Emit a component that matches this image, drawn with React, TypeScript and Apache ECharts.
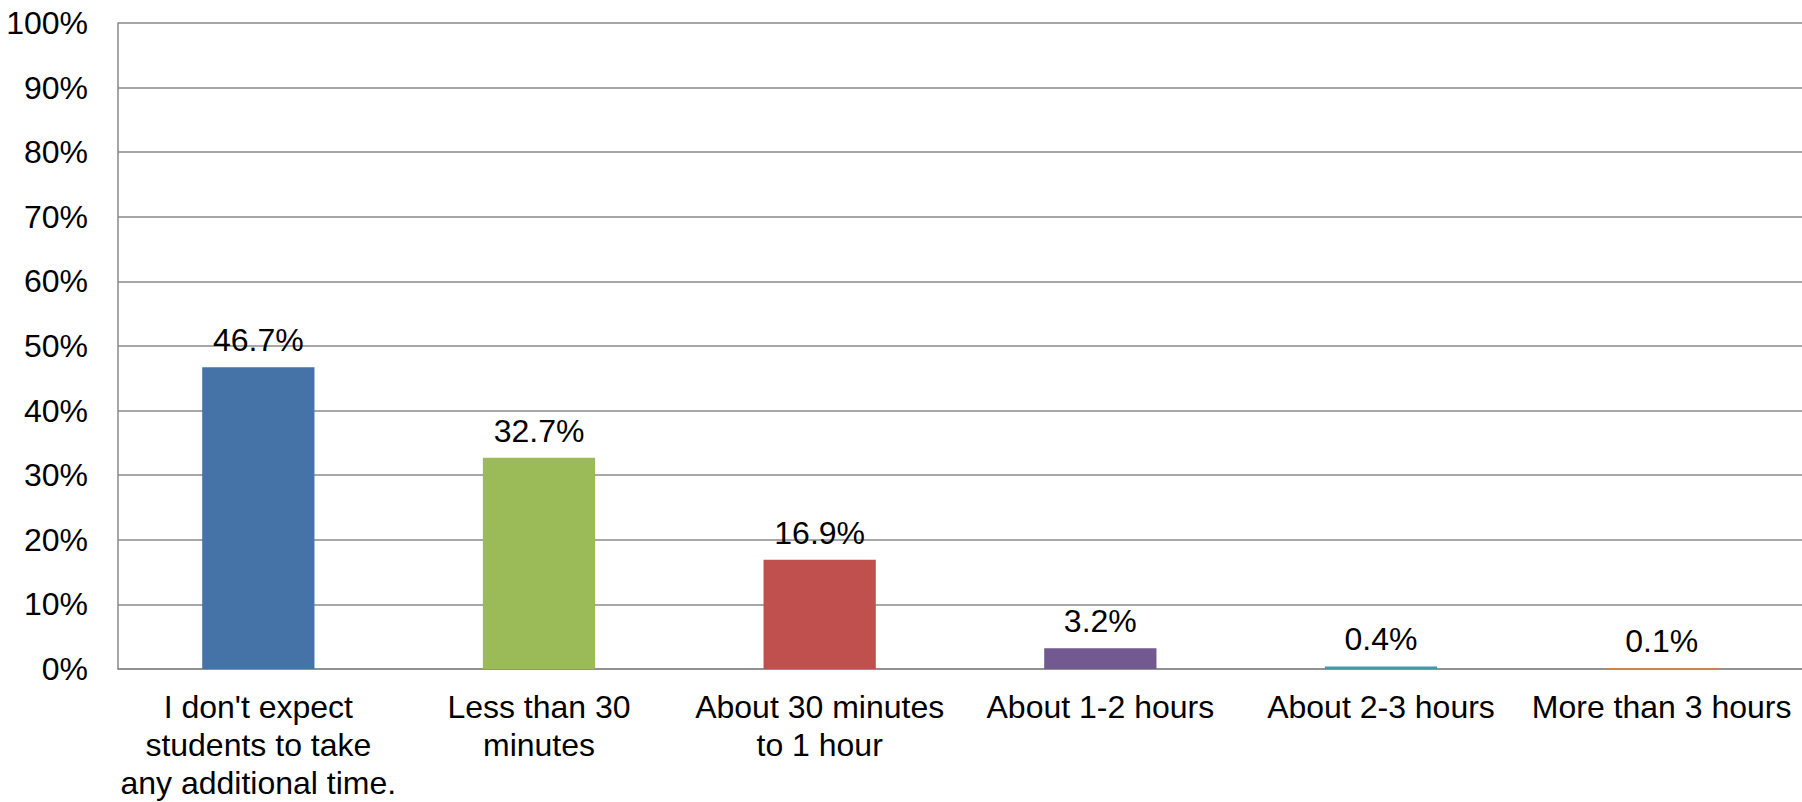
import React, { useEffect, useRef } from "react";
import * as echarts from "echarts";

const categories = [
  "I don't expect\nstudents to take\nany additional time.",
  "Less than 30\nminutes",
  "About 30 minutes\nto 1 hour",
  "About 1-2 hours",
  "About 2-3 hours",
  "More than 3 hours",
];
const values = [46.7, 32.7, 16.9, 3.2, 0.4, 0.1];
const barColors = ["#4573A7", "#9BBB59", "#C0504D", "#725990", "#4198AF", "#DB843D"];
const yMin = 0;
const yMax = 100;
const yStep = 10;

const FONT = "'Liberation Sans', Arial, sans-serif";

export default function App() {
  const ref = useRef<HTMLDivElement>(null);
  useEffect(() => {
    document.body.style.margin = "0";
    const chart = echarts.init(ref.current!, null, { renderer: "svg" });
    chart.setOption({
      animation: false,
      backgroundColor: "#ffffff",
      grid: { left: 118, top: 23, bottom: 126, right: -12, containLabel: false },
      xAxis: {
        type: "category",
        data: categories,
        axisLine: { show: true, lineStyle: { color: "#8a8a8a", width: 1.5 } },
        axisTick: { show: false },
        axisLabel: {
          color: "#000",
          fontFamily: FONT,
          fontSize: 32,
          lineHeight: 38,
          margin: 19,
          interval: 0,
        },
      },
      yAxis: {
        type: "value",
        min: yMin,
        max: yMax,
        interval: yStep,
        axisLine: { show: true, lineStyle: { color: "#8a8a8a", width: 1.5 } },
        axisTick: { show: false },
        splitLine: { show: true, lineStyle: { color: "#8a8a8a", width: 1.5 } },
        axisLabel: {
          color: "#000",
          fontFamily: FONT,
          fontSize: 32,
          margin: 30,
          formatter: "{value}%",
        },
      },
      series: [
        {
          type: "bar",
          data: values.map((v, i) => ({ value: v, itemStyle: { color: barColors[i] } })),
          barCategoryGap: "60%",
          label: {
            show: true,
            position: "top",
            distance: 11,
            color: "#000",
            fontFamily: FONT,
            fontSize: 32,
            formatter: (p: any) => p.value.toFixed(1) + "%",
          },
        },
      ],
    });
    return () => chart.dispose();
  }, []);
  return <div ref={ref} style={{ width: 1802, height: 802 }} />;
}
